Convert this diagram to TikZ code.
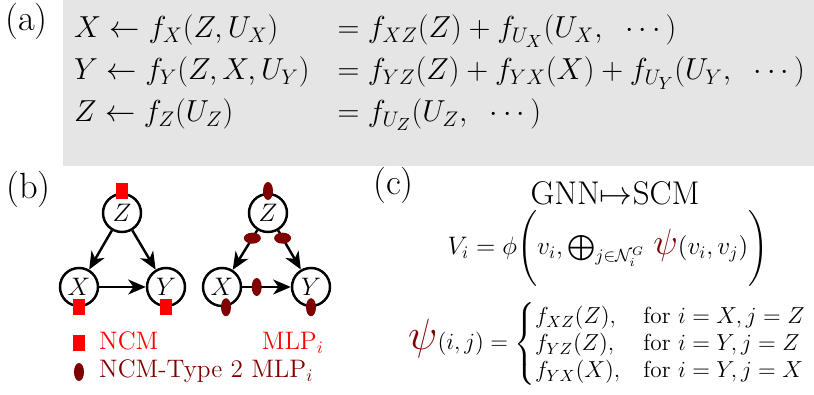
\RequirePackage{fix-cm}
\documentclass[tikz,border=0pt]{standalone}
\usepackage{amsmath, amssymb, bm}
\usepackage{xcolor}
\usetikzlibrary{shapes.geometric, arrows.meta, positioning, calc}
\definecolor{mlpred}{RGB}{128,0,0}
\definecolor{ncmred}{RGB}{255,0,0}
\definecolor{boxgray}{RGB}{229,229,229}

\begin{document}
\begin{tikzpicture}[
        >={Stealth[length=10pt, width=8.5pt, inset=3pt]},
        line width=1.4pt,
        var/.style={circle, draw=black, fill=white, minimum size=0.76cm, inner sep=0pt, font=\Large},
        ncm/.style={rectangle, fill=ncmred, minimum width=0.24cm, minimum height=0.32cm, inner sep=0pt},
        mlpv/.style={ellipse, fill=mlpred, minimum width=0.2cm, minimum height=0.36cm, inner sep=0pt},
        mlph/.style={ellipse, fill=mlpred, minimum width=0.34cm, minimum height=0.22cm, inner sep=0pt},
        lbl/.style={font=\huge, anchor=base west, inner sep=0pt},
        txt/.style={inner sep=0pt}
    ]
        \useasboundingbox (0,0) rectangle (16.28,7.88);

        % (a) Ecuaciones estructurales
        \fill[boxgray] (1.26,4.56) rectangle (16.28,7.88);
        \node[lbl] (la) at (0.08,7.26) {(a)};
        \node[txt, anchor=north west, font=\LARGE] (eqs) at (1.46,7.73) {\renewcommand{\arraystretch}{1.08}$\begin{array}{@{}l@{\hspace{16pt}}l@{}}
            X \leftarrow f_X(Z,U_X) & = f_{XZ}(Z) + f_{U_X}(U_X,\hspace{0.35cm}\cdots) \\
            Y \leftarrow f_Y(Z,X,U_Y) & = f_{YZ}(Z) + f_{YX}(X) + f_{U_Y}(U_Y,\hspace{0.35cm}\cdots) \\
            Z \leftarrow f_Z(U_Z) & = f_{U_Z}(U_Z,\hspace{0.35cm}\cdots)
        \end{array}$};

        % (b) Grafo NCM
        \node[lbl] (lb) at (0.1,3.9) {(b)};
        \node[var] (Z1) at (2.44,3.62) {$Z$};
        \node[var] (X1) at (1.58,2.14) {$X$};
        \node[var] (Y1) at (3.32,2.14) {$Y$};
        \draw[->] (Z1) -- (X1);
        \draw[->] (Z1) -- (Y1);
        \draw[->] (X1) -- (Y1);
        \node[ncm] (nZ1) at ([yshift=1pt]Z1.north) {};
        \node[ncm] (nX1) at (X1.south) {};
        \node[ncm] (nY1) at (Y1.south) {};

        % Grafo NCM-Type 2
        \node[var] (Z2) at (5.36,3.62) {$Z$};
        \node[var] (X2) at (4.44,2.14) {$X$};
        \node[var] (Y2) at (6.22,2.14) {$Y$};
        \draw[->] (Z2) -- (X2);
        \draw[->] (Z2) -- (Y2);
        \draw[->] (X2) -- (Y2);
        \node[mlpv] (mZ2) at ([yshift=1pt]Z2.north) {};
        \node[mlph] (mZX) at ($(Z2)!0.34!(X2)$) {};
        \node[mlph] (mZY) at ($(Z2)!0.34!(Y2)$) {};
        \node[mlpv] (mXY) at ($(X2)!0.39!(Y2)$) {};
        \node[mlpv] (mX2) at ([xshift=0.08cm]X2.south) {};
        \node[mlpv] (mY2) at (Y2.south) {};

        % Leyenda
        \node[ncm] (kNCM) at (1.58,1.02) {};
        \node[txt, anchor=base west, text=ncmred, font=\Large] (tNCM) at (1.96,0.88) {NCM};
        \node[txt, anchor=base east, text=ncmred, font=\Large] (tMLP) at (6.5,0.88) {MLP$_i$};
        \node[mlpv] (kT2) at (1.58,0.44) {};
        \node[txt, anchor=base west, text=mlpred, font=\Large] (tT2) at (1.96,0.32) {NCM-Type 2 MLP$_i$};

        % (c) GNN como SCM
        \node[lbl] (lc) at (7.44,3.98) {(c)};
        \node[txt, anchor=base, font=\fontsize{18.7}{22}\selectfont] (title) at (12.3,3.78) {GNN$\mapsto$SCM};
        \node[txt, font=\Large] (Veq) at (12.16,2.92) {$V_i = \phi\Bigg(v_i, \bigoplus_{j\in\mathcal{N}_i^G}\,\textcolor{mlpred}{\text{\huge$\psi$}}(v_i,v_j)\Bigg)$};
        \node[txt, anchor=west, font=\fontsize{13.2}{15.8}\selectfont] (psieq) at (8.14,1.0) {$\textcolor{mlpred}{\text{\Huge$\psi$}}(i,j) = \begin{cases}
            f_{XZ}(Z), & \text{for } i=X, j=Z \\[-3.6pt]
            f_{YZ}(Z), & \text{for } i=Y, j=Z \\[-3.6pt]
            f_{YX}(X), & \text{for } i=Y, j=X
        \end{cases}$};

    \end{tikzpicture}
\end{document}
